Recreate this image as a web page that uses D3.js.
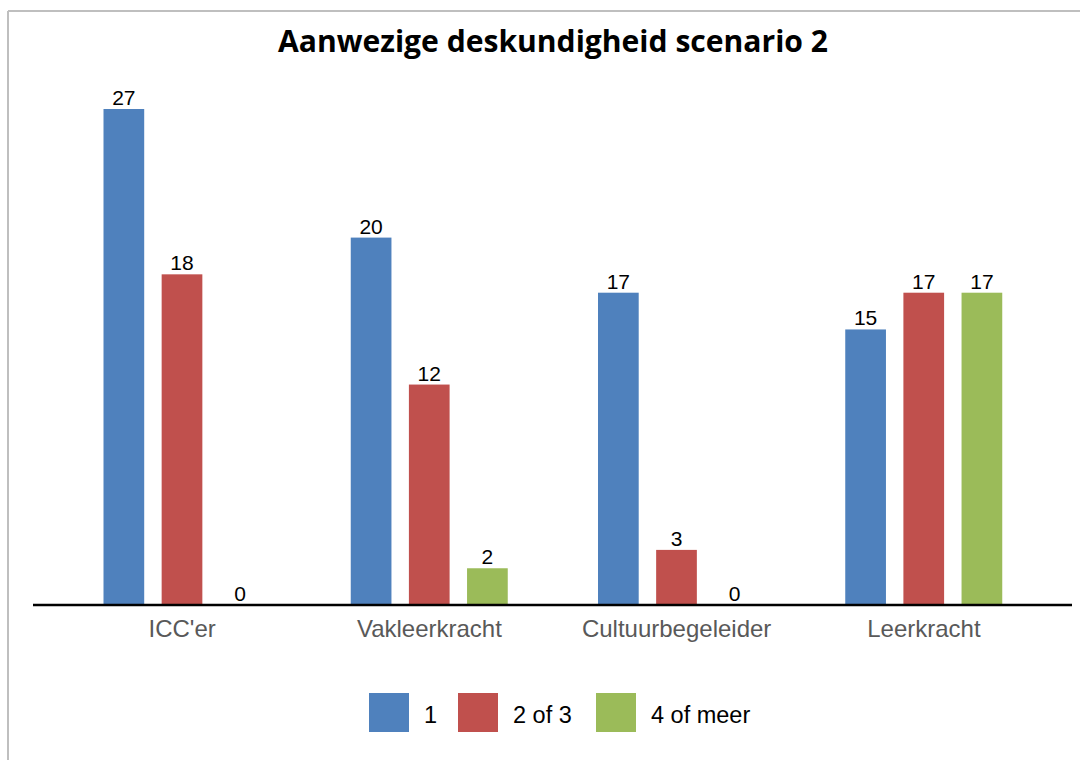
<!DOCTYPE html>
<html>
<head>
<meta charset="utf-8">
<script src="https://cdn.jsdelivr.net/npm/d3@7"></script>
<style>
  body { margin: 0; background: #fff; }
  svg { display: block; }
</style>
</head>
<body>
<svg id="chart"></svg>
<script>
// categories and series
var categories = ["ICC'er", "Vakleerkracht", "Cultuurbegeleider", "Leerkracht"];
var series = ["1", "2 of 3", "4 of meer"];
var colors = ["#4f81bd", "#c0504d", "#9bbb59"];

// values per serie, in order of categories
var vals1 = [27, 20, 17, 15];
var vals2 = [18, 12, 3, 17];
var vals3 = [0, 2, 0, 17];

var W = 1080, H = 760;
var baseY = 605;

var svg = d3.select("#chart").attr("width", W).attr("height", H);

// border (only top and left visible)
svg.append("line").attr("x1", 8).attr("y1", 11).attr("x2", W).attr("y2", 11)
  .attr("stroke", "#bfbfbf").attr("stroke-width", 2);
svg.append("line").attr("x1", 8).attr("y1", 11).attr("x2", 8).attr("y2", H)
  .attr("stroke", "#bfbfbf").attr("stroke-width", 2);

// title
svg.append("text")
  .attr("x", 553).attr("y", 52)
  .attr("text-anchor", "middle")
  .attr("textLength", 550)
  .attr("lengthAdjust", "spacingAndGlyphs")
  .style("font-family", "'Open Sans', 'Liberation Sans', sans-serif")
  .style("font-weight", "bold")
  .style("font-size", "31px")
  .attr("fill", "#000")
  .text("Aanwezige deskundigheid scenario 2");

var x0 = d3.scaleBand().domain(categories).range([58.5, 1047.5]).paddingInner(0);
var x1 = d3.scaleBand().domain(series).range([45, 202]).paddingInner(0.3);
var y = d3.scaleLinear().domain([0, 27]).range([baseY, 109]);

var data = [];
var all = [vals1, vals2, vals3];
categories.forEach(function(c, i){
  series.forEach(function(s, j){
    data.push({cat: c, ser: s, val: all[j][i], col: colors[j]});
  });
});

var g = svg.append("g");

g.selectAll("rect.bar")
  .data(data)
  .enter()
  .append("rect")
  .attr("class", "bar")
  .attr("x", function(d){ return x0(d.cat) + x1(d.ser); })
  .attr("y", function(d){ return y(d.val); })
  .attr("width", x1.bandwidth())
  .attr("height", function(d){ return baseY - y(d.val); })
  .attr("fill", function(d){ return d.col; });

g.selectAll("text.val")
  .data(data)
  .enter()
  .append("text")
  .attr("class", "val")
  .attr("x", function(d){ return x0(d.cat) + x1(d.ser) + x1.bandwidth() / 2; })
  .attr("y", function(d){ return y(d.val) - 4; })
  .attr("text-anchor", "middle")
  .style("font-family", "'Liberation Sans', Arial, sans-serif")
  .style("font-size", "21px")
  .attr("fill", "#000")
  .text(function(d){ return d.val; });

// x axis
var xAxis = d3.axisBottom(x0).tickSize(0).tickPadding(0);
var ax = svg.append("g").attr("transform", "translate(0," + baseY + ")").call(xAxis);
ax.select(".domain").remove();
ax.selectAll("text")
  .attr("dy", null)
  .attr("y", 32)
  .style("font-family", "'Liberation Sans', Arial, sans-serif")
  .style("font-size", "24px")
  .attr("fill", "#595959");

svg.append("line")
  .attr("x1", 33).attr("x2", 1072)
  .attr("y1", baseY).attr("y2", baseY)
  .attr("stroke", "#000").attr("stroke-width", 2.5);

// legend
var legX = [369, 458, 596];
var leg = svg.selectAll("g.leg")
  .data(series)
  .enter()
  .append("g")
  .attr("class", "leg")
  .attr("transform", function(d, i){ return "translate(" + legX[i] + ",693)"; });

leg.append("rect")
  .attr("width", 40).attr("height", 39)
  .attr("fill", function(d, i){ return colors[i]; });

leg.append("text")
  .attr("x", 55).attr("y", 29.5)
  .style("font-family", "'Liberation Sans', Arial, sans-serif")
  .style("font-size", "23.5px")
  .attr("fill", "#000")
  .text(function(d){ return d; });
</script>
</body>
</html>
